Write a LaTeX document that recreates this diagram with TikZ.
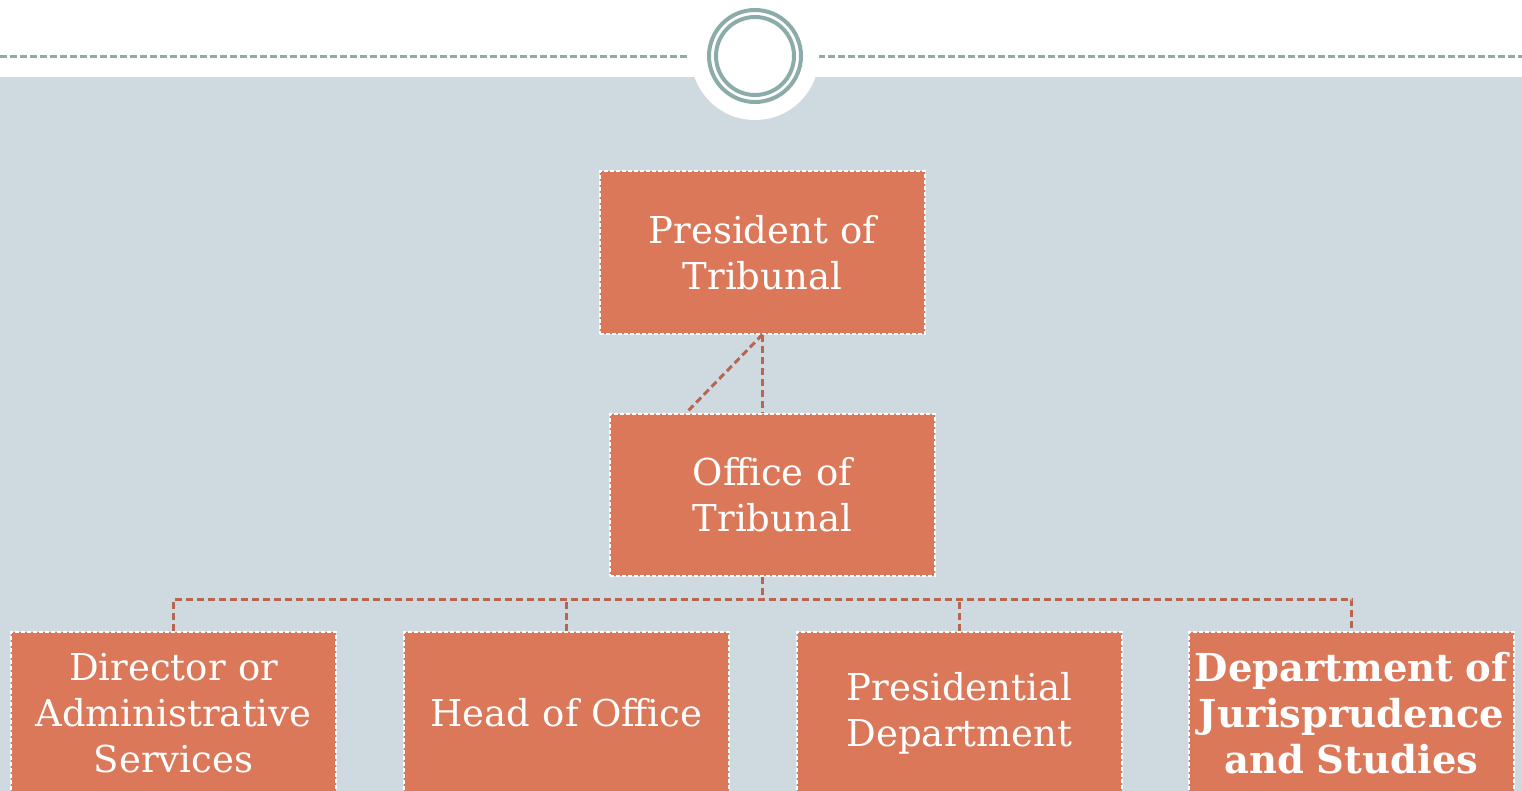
\documentclass[tikz,border=0pt]{standalone}
\usepackage{fontspec}
\newfontfamily\boxfont{DejaVu Serif}
\definecolor{bgband}{RGB}{207,218,224}
\definecolor{teal}{RGB}{140,172,170}
\definecolor{boxfill}{RGB}{220,120,90}
\definecolor{conn}{RGB}{184,103,78}
\tikzset{
  orgbox/.style={draw=white, fill=boxfill, line width=2pt, dash pattern=on 4pt off 2pt,
    minimum width=325pt, minimum height=162pt, inner sep=1pt, text width=323pt, align=center,
    text=white, font=\boxfont\fontsize{37}{46}\selectfont},
  connector/.style={draw=conn, line width=3pt, dash pattern=on 7pt off 4pt},
}
\begin{document}
\begin{tikzpicture}[x=1pt,y=-1pt]
\useasboundingbox (0,0) rectangle (1522,791);
\fill[white] (0,0) rectangle (1522,791);
\fill[bgband] (0,77) rectangle (1522,791);
\draw[teal, line width=3pt, dash pattern=on 7pt off 3pt] (0,57) -- (690,57);
\draw[teal, line width=3pt, dash pattern=on 7pt off 3pt] (818,57) -- (1522,57);
\fill[white] (755,56) circle[radius=64];
\draw[teal, line width=4pt] (755,56) circle[radius=46];
\draw[teal, line width=4pt] (755,56) circle[radius=39];

\node[orgbox] (pres) at (762.5,252.5) {President of\\Tribunal};
\node[orgbox] (office) at (772.5,495) {Office of\\Tribunal};
\node[orgbox] (dir) at (173.5,713) {Director or\\Administrative\\Services};
\node[orgbox] (head) at (566.5,713) {Head of Office};
\node[orgbox] (presdep) at (959.5,713) {Presidential\\Department};
\node[orgbox] (juris) at (1351.5,713) {\fontsize{38.5}{46}\selectfont\bfseries Department of\\Jurisprudence\\and Studies};

\coordinate (diag) at ([xshift=-86.5pt]office.north);
\coordinate (bus) at ([yshift=-22pt]pres.south |- office.south);
\draw[connector] (pres.south) -- (pres.south |- office.north);
\draw[connector] (pres.south) -- (diag);
\draw[connector] (pres.south |- office.south) -- (bus);
\draw[connector] (dir.north) -- (dir.north |- bus) -- (juris.north |- bus) -- (juris.north);
\draw[connector] (head.north) -- (head.north |- bus);
\draw[connector] (presdep.north) -- (presdep.north |- bus);
\end{tikzpicture}
\end{document}
